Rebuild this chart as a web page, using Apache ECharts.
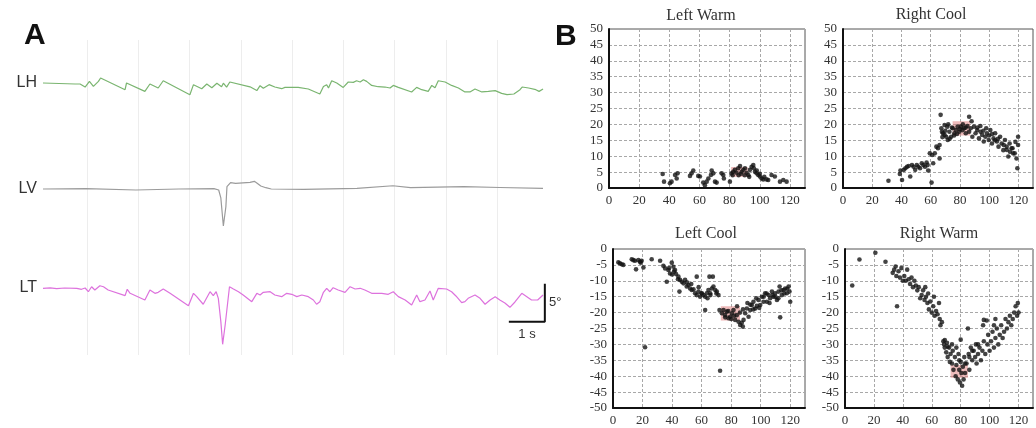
<!DOCTYPE html>
<html><head><meta charset="utf-8">
<script src="https://cdn.jsdelivr.net/npm/echarts@6/dist/echarts.min.js"></script>
<style>html,body{margin:0;padding:0;background:#fff}#c{width:1036px;height:428px}</style>
</head><body><div id="c"></div><script>
// ---------- Panel A traces: [time (s), angle (deg) relative to channel baseline]
const traceNames = ['LH', 'LV', 'LT'];
const lhTrace = [[0,0],[0.89,-0.13],[1.03,-0.13],[1.17,-0.53],[1.29,0.21],[1.40,-0.45],[1.54,0.21],[1.60,0.66],[2.28,-0.88],[2.32,0],[2.83,-1.1],[2.97,-0.13],[3.20,-0.66],[3.34,0.3],[4.08,-1.54],[4.18,-0.22],[4.41,-0.75],[4.55,-0.13],[4.69,-0.62],[4.83,-0.03],[4.96,-0.5],[5.01,-0.03],[5.10,-0.55],[5.19,0.13],[5.75,-0.5],[5.94,-1.0],[6.03,-0.35],[6.12,-0.68],[6.17,-0.45],[6.28,-0.22],[6.44,-0.53],[6.63,-0.75],[6.72,-0.58],[7.09,-0.58],[7.37,-0.79],[7.69,-1.45],[7.79,-0.45],[7.88,-0.22],[7.93,-0.66],[8.02,0.3],[8.16,0],[8.34,-0.58],[8.48,0.13],[8.62,0.08],[8.71,0.3],[8.81,0.13],[8.9,0.43],[8.99,0.21],[9.13,-0.32],[9.31,-0.49],[9.5,-0.53],[9.64,-0.66],[9.73,-0.32],[9.87,-0.58],[10.24,-1.18],[10.38,-0.58],[10.52,-0.88],[10.7,-1.1],[10.8,-0.32],[10.89,-0.62],[10.98,0.3],[11.17,0.13],[11.35,-0.32],[11.54,-0.66],[11.72,-1.18],[11.86,-1.18],[12.0,-0.79],[12.19,-1.18],[12.37,-1.1],[12.56,-1.01],[12.74,-1.37],[12.89,-1.54],[13.08,-1.45],[13.25,-0.88],[13.31,-0.53],[13.49,-0.66],[13.69,-0.88],[13.78,-1.1],[13.89,-0.79]];
const lvTrace = [[0,0],[1.2,0.05],[2.58,-0.13],[3.77,0],[4.75,0.04],[4.88,-0.13],[4.94,-1.18],[5.01,-4.87],[5.08,-2.33],[5.11,0.3],[5.21,0.83],[5.35,0.75],[5.75,0.88],[5.87,1.01],[5.93,0.83],[6.05,0.39],[6.19,0.17],[6.34,0],[7.24,-0.04],[8.72,0.09],[9.72,0.43],[10.21,0.17],[11.69,0.3],[12.69,0.2],[13.89,0.09]];
const ltTrace = [[0,0],[0.2,0.05],[0.38,-0.04],[0.6,0.04],[0.94,0],[1.07,-0.13],[1.17,0.04],[1.26,-0.45],[1.35,0.21],[1.44,-0.22],[1.58,0.34],[1.68,0.21],[1.81,-0.22],[2.28,-0.97],[2.34,-0.13],[2.42,-0.66],[2.83,-1.54],[2.97,-0.22],[3.11,-0.66],[3.2,-0.53],[3.34,-0.09],[3.53,-0.66],[4.04,-2.29],[4.18,-0.66],[4.27,-1.1],[4.45,-2.1],[4.64,-0.45],[4.73,-0.97],[4.81,-0.45],[4.87,-1.32],[4.94,-4.39],[4.99,-7.37],[5.06,-4.83],[5.1,-4.6],[5.18,0.21],[5.29,-0.09],[5.43,-0.45],[5.56,-0.88],[5.8,-1.76],[5.94,-0.66],[6.03,-0.88],[6.12,-0.53],[6.17,-0.66],[6.31,-0.45],[6.44,-0.88],[6.63,-1.1],[6.77,-0.66],[6.91,-0.79],[7.05,-1.1],[7.19,-0.88],[7.37,-1.1],[7.51,-1.54],[7.6,-2.1],[7.69,-1.76],[7.79,-0.53],[7.88,0],[7.97,-0.45],[8.06,0.08],[8.2,-0.22],[8.39,-0.53],[8.53,0.21],[8.67,-0.09],[8.81,0],[8.94,-0.22],[9.13,-0.66],[9.41,-0.66],[9.59,-0.79],[9.73,-0.45],[9.87,-1.1],[10.06,-1.54],[10.24,-2.2],[10.38,-0.88],[10.47,-1.76],[10.61,-1.54],[10.75,-0.36],[10.84,-1.54],[10.98,0],[11.21,-0.09],[11.35,-0.45],[11.47,-1.01],[11.63,-1.89],[11.72,-1.76],[11.81,-1.32],[12.0,-0.88],[12.14,-1.32],[12.28,-2.1],[12.42,-1.54],[12.56,-1.1],[12.69,-1.54],[12.83,-1.93],[12.97,-2.5],[13.11,-1.8],[13.3,-0.66],[13.44,-1.1],[13.57,-1.54],[13.74,-1.54],[13.89,-0.88]];
// scale bar: 1 s horizontal, 5 deg vertical (in LT channel units)
const scaleBar = [[12.94,-4.4],[13.94,-4.4],[13.94,0.6]];

// ---------- Panel B scatter data: [x, y]
const plotTitles = ['Left Warm', 'Right Cool', 'Left Cool', 'Right Warm'];
const xTicks = [0, 20, 40, 60, 80, 100, 120];
const leftWarm = [[35.6,4.4],[36.5,2.0],[40.4,1.5],[41.5,2.0],[43.8,4.1],[44.9,3.0],[45.5,4.6],[53.7,3.8],[54.8,4.6],[55.9,5.5],[59.2,3.8],[60.3,3.6],[62.5,1.7],[63.6,0.9],[64.8,2.0],[65.9,3.0],[67.6,4.1],[68.1,5.5],[69.2,4.6],[70.3,2.0],[71.4,1.7],[74.7,4.6],[75.8,4.1],[76.2,3.0],[80.2,2.0],[81.3,4.6],[82.4,5.1],[83.5,5.7],[84.6,4.8],[85.7,6.2],[86.9,6.9],[88,5.1],[89.1,5.7],[90.2,6.2],[91.3,4.8],[92.4,4.1],[93.5,5.7],[94.6,6.7],[95.7,7.2],[96.1,6.2],[96.8,5.1],[97.9,4.6],[99,4.1],[100.1,3.6],[101.2,3.0],[102.3,2.7],[104.5,2.7],[105.6,2.5],[107.8,4.1],[110,3.6],[113.4,2.0],[115.6,2.5],[117.8,2.0],[87.5,4.5],[90,4.0],[93,3.5],[98,5.5],[100,4.5],[103,3.5],[86,4.0],[82,4.0]];
const rightCool = [[31.1,2.3],[38.9,4.4],[39.3,5.5],[40.4,2.5],[41.6,5.7],[42.7,6.2],[43.8,6.7],[44.9,6.9],[46,3.6],[47.2,7.2],[48.3,6.7],[49.4,5.7],[50.5,7.2],[51.6,6.7],[52.7,6.2],[53.9,7.8],[55,7.2],[56.1,6.7],[57.2,8.0],[57.9,7.2],[58.3,5.5],[59.4,10.9],[60.6,1.7],[61,10.4],[61.7,7.8],[62.8,10.9],[63.9,13.0],[65,12.5],[66.1,13.5],[66.1,9.3],[66.8,23.0],[67.3,18.8],[67.7,17.7],[68.4,17.2],[69.5,16.7],[69.5,19.8],[70.6,16.1],[71.3,19.3],[71.7,15.1],[72.8,17.7],[74,16.1],[75.1,18.8],[76.2,17.2],[77.3,18.2],[78.4,19.3],[79.6,17.7],[80.7,19.3],[81.8,18.2],[82.9,18.8],[84,17.2],[85.1,19.5],[86.3,22.4],[86.3,17.7],[87.4,18.8],[88.5,16.1],[89.6,19.3],[90.7,17.2],[91.8,18.2],[93,15.6],[94.1,17.7],[95.2,16.7],[96.3,14.6],[97.4,16.1],[98.5,17.2],[99.7,15.1],[100.8,18.2],[101.9,14.0],[103,15.6],[104.1,17.2],[105.3,14.6],[106.4,13.0],[107.5,16.1],[108.6,14.0],[109.7,11.9],[110.8,15.1],[112,13.0],[113.1,9.9],[114.2,11.4],[115.3,12.5],[116.4,10.9],[117.5,10.9],[118.7,9.3],[119.3,6.2],[119.8,16.1],[119.8,13.5],[68,16],[70,18],[72,20],[73,15.5],[74.5,19],[76,16.5],[78,17],[80,18.5],[82,20],[84,19],[88,21],[92,19],[94,19.5],[96,18],[98,18.8],[100,16.5],[102,17],[104,15],[106,15.5],[110,13.5],[112,12],[114,14],[116,12.5],[118,14.5]];
const leftCool = [[3.6,-4.2],[4.7,-4.5],[5.9,-4.8],[7,-5],[12.7,-3.2],[13.8,-3.5],[14.9,-3.7],[15.6,-6.4],[17.2,-3.5],[18.3,-4],[18.8,-4.3],[19.4,-3.7],[20.6,-5.8],[21.7,-30.9],[26.2,-3.2],[31.9,-3.7],[34.1,-5.3],[35.3,-6.1],[36.4,-10.3],[37.5,-6.6],[38.6,-7.7],[39.8,-4.3],[40.9,-5.6],[41.4,-7.1],[42,-6.6],[42.7,-7.9],[44.3,-8.7],[45,-13.4],[45.4,-9.7],[46.6,-10.3],[47.7,-10.8],[48.8,-9.7],[49.9,-11.8],[51.1,-11.3],[52.2,-12.4],[53.3,-12.9],[54.5,-12.7],[55.6,-13.9],[56.7,-14.5],[56.7,-8.7],[57.9,-13.4],[59,-15],[60.1,-13.9],[61.2,-14.5],[62.4,-15],[62.4,-19.2],[63.5,-13.9],[64.6,-12.9],[65.3,-8.7],[65.8,-13.9],[66.9,-12.4],[67.6,-8.7],[68,-11.8],[69.2,-12.9],[70.3,-13.4],[71.4,-14.5],[72.1,-19.2],[72.5,-38.3],[73.7,-20.2],[74.8,-19.2],[75.9,-20.8],[77.1,-19.7],[78.2,-21.8],[79.3,-21.3],[80.5,-20.2],[81.6,-19.2],[82.7,-22.3],[83.8,-20.8],[85,-22.9],[86.1,-23.9],[87.2,-23.2],[87.9,-24.4],[88.4,-22.3],[89.5,-20.2],[90.6,-18.7],[91.8,-21.3],[92.9,-19.2],[94,-17.6],[95.1,-16.6],[96.3,-18.7],[97.4,-17.9],[98.5,-16],[99.7,-17.6],[100.8,-15],[101.9,-16.6],[103,-13.9],[104.2,-16.6],[105.3,-14.5],[106.4,-15.5],[107.6,-13.4],[108.7,-15],[109.8,-13.9],[111,-16],[112.1,-13.4],[112.8,-11.8],[113.2,-21.5],[114.3,-14.5],[115.5,-12.9],[116.6,-12.4],[117.7,-13.9],[118.9,-11.8],[119.5,-13.4],[120,-16.6],[84,-18],[86,-20],[88,-19],[91,-17],[93,-17.5],[95,-19],[97,-15.5],[99,-18.5],[102,-15],[104,-14],[106,-17],[108,-14.5],[110,-15],[112,-15.5],[114,-13],[116,-14],[118,-12.5],[76,-21.5],[78,-19.5],[80,-22],[82,-21],[50,-10.5],[53,-11],[58,-12],[60,-14],[64,-15.5],[66,-14.5],[70,-14],[44,-9.5],[38,-6],[40,-8]];
const rightWarm = [[5,-11.5],[10,-3.3],[21,-1.2],[28,-4],[33,-7.5],[34,-6.5],[35,-5.5],[35.5,-8.5],[36,-18],[37,-7],[38,-9],[39,-6],[40,-10],[41,-8.5],[42,-10],[43,-6.5],[44,-9.5],[45,-11],[46,-9],[47,-12],[48,-10],[49,-11.5],[50,-13],[51,-12],[52,-15.5],[53,-14.5],[54,-13],[55,-16],[55.5,-12],[56,-15],[57,-17],[57.5,-14],[58,-19],[59,-16.5],[60,-20],[61,-18],[61.5,-15],[62,-21],[63,-19.5],[64,-20.5],[65,-17],[65.5,-22],[66,-24],[67,-23],[68,-29],[68.5,-30],[69,-31],[70,-32.5],[70.5,-29.5],[71,-34],[72,-31],[72.5,-35.5],[73,-33],[74,-36],[74.5,-32],[75,-38],[76,-34],[76.5,-40],[77,-36.5],[78,-41],[78.5,-33],[79,-38],[79.5,-42],[80,-35.5],[80.5,-39],[81,-43],[81.5,-37],[82,-41],[82.5,-34],[83,-39],[84,-36],[85,-25],[85.5,-33],[86,-38],[87,-31],[88,-35],[89,-32],[90,-34],[90.5,-30],[91,-36],[92,-33],[93,-31],[94,-35],[95,-32],[95.5,-24],[96,-29],[96,-22.3],[97,-33],[98,-22.5],[98.5,-30],[99,-27],[100,-32],[101,-29],[102,-26],[103,-31],[103,-24],[104,-28],[104,-22],[105,-25],[106,-30],[107,-27],[108,-24],[109,-28],[110,-26],[111,-22],[112,-25],[113,-23],[114,-21],[115,-24],[116,-22],[117,-20],[118,-18],[119,-21],[119.5,-17],[120,-20],[80,-28.5],[71,-30.7],[69,-28.6],[74,-30],[77,-31],[79,-35],[83,-36],[86,-34],[88,-32],[92,-30]];
// highlighted mean region per plot: [x0, x1, y0, y1]
const meanBoxes = [[81,92,3.5,6.6],[75,87,16.5,21],[73,86,-18,-22.5],[73,85,-36.5,-40.5]];
const yRanges = [[0,50],[0,50],[-50,0],[-50,0]];

// ---------- chart
const sans = 'Liberation Sans, Arial, sans-serif';
const serif = 'Liberation Serif, Times New Roman, serif';
const chart = echarts.init(document.getElementById('c'), null, {renderer: 'canvas'});

const grids = [
  {left: 87, top: 40, width: 410, height: 315},
  {left: 43, top: 45, width: 504, height: 76},
  {left: 43, top: 166.2, width: 504, height: 76},
  {left: 43, top: 257.9, width: 504, height: 91.2},
  {left: 609, top: 29, width: 196, height: 159},
  {left: 843, top: 29, width: 196, height: 159},
  {left: 613, top: 249, width: 192, height: 159},
  {left: 845, top: 249, width: 194, height: 159}
];
const traceYRanges = [[-5,5],[-7,3],[-8,4]];
const traceColors = ['#7ab570', '#9b9b9b', '#dd72dd'];
const traces = [lhTrace, lvTrace, ltTrace];

const hidden = {show: false};
const xAxes = [], yAxes = [], series = [];
// background grid lines for panel A
xAxes.push({gridIndex: 0, type: 'value', min: 0, max: 8, interval: 1, axisLine: hidden, axisTick: hidden, axisLabel: hidden,
  splitLine: {show: true, showMinLine: true, showMaxLine: true, lineStyle: {color: '#ededed', width: 1}}});
yAxes.push({gridIndex: 0, type: 'value', show: false, min: 0, max: 1, splitLine: hidden});
for (let i = 0; i < 3; i++) {
  xAxes.push({gridIndex: i + 1, type: 'value', min: 0, max: 14, show: false, splitLine: hidden});
  yAxes.push({gridIndex: i + 1, type: 'value', min: traceYRanges[i][0], max: traceYRanges[i][1], show: false, splitLine: hidden});
  series.push({type: 'line', name: traceNames[i], xAxisIndex: i + 1, yAxisIndex: i + 1, data: traces[i], showSymbol: false,
    symbol: 'none', lineStyle: {color: traceColors[i], width: 1.2}, silent: true, animation: false, z: 3});
}
series.push({type: 'line', xAxisIndex: 3, yAxisIndex: 3, data: scaleBar, symbol: 'none',
  lineStyle: {color: '#111', width: 2}, silent: true, animation: false, z: 4});

const scatterData = [leftWarm, rightCool, leftCool, rightWarm];
for (let i = 0; i < 4; i++) {
  const g = i + 4;
  grids[g].show = true; grids[g].borderColor = '#555'; grids[g].borderWidth = 1;
  xAxes.push({gridIndex: g, type: 'value', min: 0, max: 130, interval: 20,
    axisLine: {show: true, onZero: false, lineStyle: {color: '#111', width: 2}},
    axisTick: hidden,
    axisLabel: {fontFamily: serif, fontSize: 13, color: '#333', margin: 6,
      formatter: v => (xTicks.indexOf(v) >= 0 ? String(v) : '')},
    splitLine: {show: true, lineStyle: {color: '#a8a8a8', width: 1, type: [3, 2]}}});
  yAxes.push({gridIndex: g, type: 'value', min: yRanges[i][0], max: yRanges[i][1], interval: 5,
    axisLine: {show: true, onZero: false, lineStyle: {color: '#111', width: 2}},
    axisTick: hidden,
    axisLabel: {fontFamily: serif, fontSize: 13, color: '#333', margin: 6},
    splitLine: {show: true, lineStyle: {color: '#a8a8a8', width: 1, type: [3, 2]}}});
  const b = meanBoxes[i];
  series.push({type: 'line', xAxisIndex: g, yAxisIndex: g, data: [], silent: true, animation: false, z: 1,
    markArea: {silent: true, itemStyle: {color: 'rgba(222,120,120,0.5)'},
      data: [[{coord: [b[0], b[2]]}, {coord: [b[1], b[3]]}]]}});
  series.push({type: 'scatter', name: plotTitles[i], xAxisIndex: g, yAxisIndex: g, data: scatterData[i],
    symbolSize: 4.6, itemStyle: {color: '#141414'}, silent: true, animation: false, z: 3});
}

function txt(text, x, y, font, align, color) {
  return {type: 'text', x: x, y: y, silent: true, z: 10,
    style: {text: text, font: font, fill: color || '#222', textAlign: align, align: align,
      textVerticalAlign: 'middle', verticalAlign: 'middle'}};
}
const titlePos = [[701, 15.5], [931, 15], [706, 234], [939, 234]];
const graphics = [
  txt('A', 24, 36, 'bold 30px ' + sans, 'left', '#111'),
  txt('B', 555, 37, 'bold 30px ' + sans, 'left', '#111'),
  txt('LH', 37, 83, '16px ' + sans, 'right', '#333'),
  txt('LV', 37, 189, '16px ' + sans, 'right', '#333'),
  txt('LT', 37, 288, '16px ' + sans, 'right', '#333'),
  txt('1 s', 527, 334, '13px ' + sans, 'center', '#333'),
  txt('5°', 549, 302, '13px ' + sans, 'left', '#333')
];
plotTitles.forEach((t, i) => graphics.push(txt(t, titlePos[i][0], titlePos[i][1], '16px ' + serif, 'center', '#333')));

chart.setOption({
  animation: false,
  backgroundColor: '#fff',
  grid: grids,
  xAxis: xAxes,
  yAxis: yAxes,
  series: series,
  graphic: graphics
});
</script></body></html>
